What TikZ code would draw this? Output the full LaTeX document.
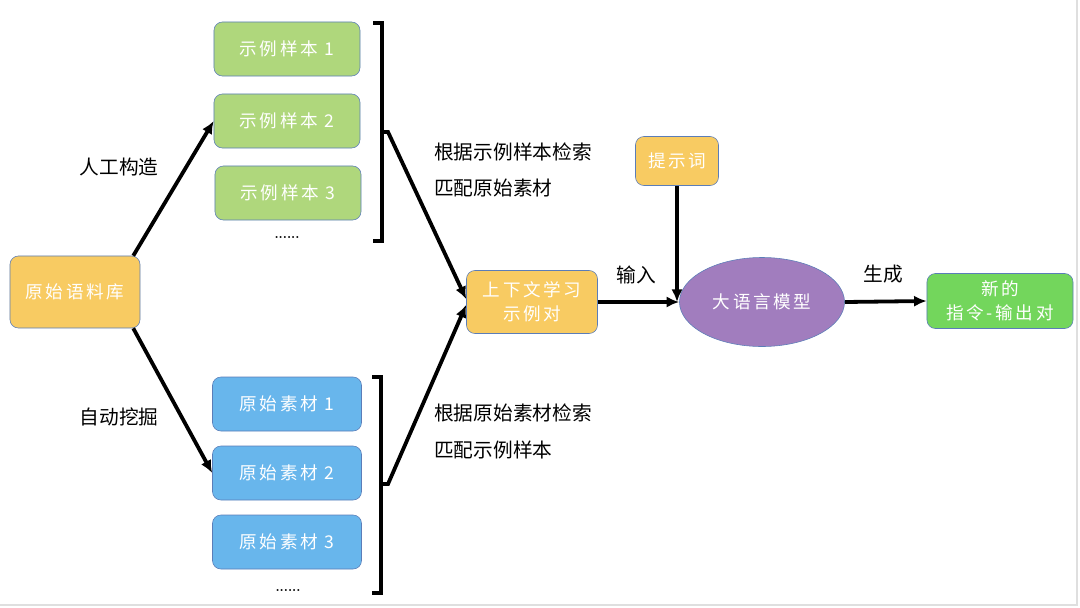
\documentclass[tikz,border=0pt]{standalone}
\usepackage{fontspec}
\newfontfamily\cjk{Noto Sans CJK SC}
\newfontfamily\cjkbox[LetterSpace=15]{Noto Sans CJK SC}
\usetikzlibrary{arrows.meta}
\usetikzlibrary{shapes.geometric}
\definecolor{boxedge}{HTML}{5B7DB8}
\definecolor{boxyellow}{HTML}{F8CB62}
\definecolor{boxgreen}{HTML}{AFD77C}
\definecolor{boxblue}{HTML}{68B6EC}
\definecolor{boxpurple}{HTML}{A17DBE}
\definecolor{boxlime}{HTML}{73D65C}
\tikzset{box/.style = {draw=boxedge, rounded corners=6pt, text=white, align=center,
                       inner sep=0pt, font=\cjkbox\fontsize{12.5}{17}\selectfont}}
\tikzset{conn/.style = {-{Latex[length=9pt,width=8pt]}, line width=2.7pt}}
\tikzset{brace/.style = {line width=2.4pt}}
\tikzset{lbl/.style = {font=\cjk\fontsize{14}{18}\selectfont, anchor=west, inner sep=0pt}}

\begin{document}
\begin{tikzpicture}[x=0.025cm, y=-0.025cm]
			\useasboundingbox (0,0) rectangle (1080,607);
			\draw [gray!25, line width=1pt] (1077,0) -- (1077,605) -- (0,605);
			% left side
			\node [box, fill=boxyellow, minimum width=3.25cm, minimum height=1.8cm] (corpus) at (75,292) {原始语料库};
			\node [box, fill=boxgreen, minimum width=3.65cm, minimum height=1.35cm] (ex1) at (287,49) {示例样本 1};
			\node [box, fill=boxgreen, minimum width=3.65cm, minimum height=1.35cm] (ex2) at (287,121) {示例样本 2};
			\node [box, fill=boxgreen, minimum width=3.65cm, minimum height=1.35cm] (ex3) at (288,193) {示例样本 3};
			\node [font=\bfseries\fontsize{9}{10}\selectfont] (exdots) at (287,238) {......};
			\node [box, fill=boxblue, minimum width=3.725cm, minimum height=1.35cm] (mat1) at (287,404) {原始素材 1};
			\node [box, fill=boxblue, minimum width=3.725cm, minimum height=1.35cm] (mat2) at (287,473) {原始素材 2};
			\node [box, fill=boxblue, minimum width=3.725cm, minimum height=1.35cm] (mat3) at (287,542) {原始素材 3};
			\node [font=\bfseries\fontsize{9}{10}\selectfont] (matdots) at (288,590) {......};
			\node [lbl, anchor=center] (manual) at (119,167) {人工构造};
			\node [lbl, anchor=center] (mined) at (119,417) {自动挖掘};
			% brackets
			\coordinate (b1) at (382,132);
			\coordinate (b2) at (381,484);
			\draw [brace] (373,23) -- (382,23) -- (382,241) -- (373,241);
			\draw [brace] (372,377) -- (381,377) -- (381,593) -- (372,593);
			% right side
			\node [box, fill=boxyellow, minimum width=3.275cm, minimum height=1.575cm] (ctx) at (532,302) {上下文学习\\示例对};
			\node [box, fill=boxyellow, minimum width=2.075cm, minimum height=1.225cm] (prompt) at (677,161) {提示词};
			\node [box, ellipse, fill=boxpurple, minimum width=4.125cm, minimum height=2.225cm] (llm) at (762,302) {大语言模型};
			\node [box, fill=boxlime, minimum width=3.65cm, minimum height=1.375cm] (new) at (1000,301) {新的\\指令-输出对};
			\node [lbl] (q1a) at (434,152) {根据示例样本检索};
			\node [lbl] (q1b) at (434,188) {匹配原始素材};
			\node [lbl] (q2a) at (434,413) {根据原始素材检索};
			\node [lbl] (q2b) at (434,450) {匹配示例样本};
			\node [lbl, anchor=center] (input) at (636,275) {输入};
			\node [lbl, anchor=center] (gen) at (883,274) {生成};
			% arrows
			\draw [conn] ([xshift=-5pt]corpus.north east) to (ex2.west);
			\draw [conn] ([xshift=-5pt]corpus.south east) to (mat2.west);
			\draw [conn] (b1) -- ++(6,0) -- ([yshift=2pt]ctx.west);
			\draw [conn] (b2) -- ++(7,0) -- ([yshift=-2pt]ctx.west);
			\draw [conn] (ctx.east) to (llm.west);
			\draw [conn] (prompt.south) to (prompt.south |- llm.west);
			\draw [conn] (llm.east) to (new.west);
		\end{tikzpicture}
\end{document}
